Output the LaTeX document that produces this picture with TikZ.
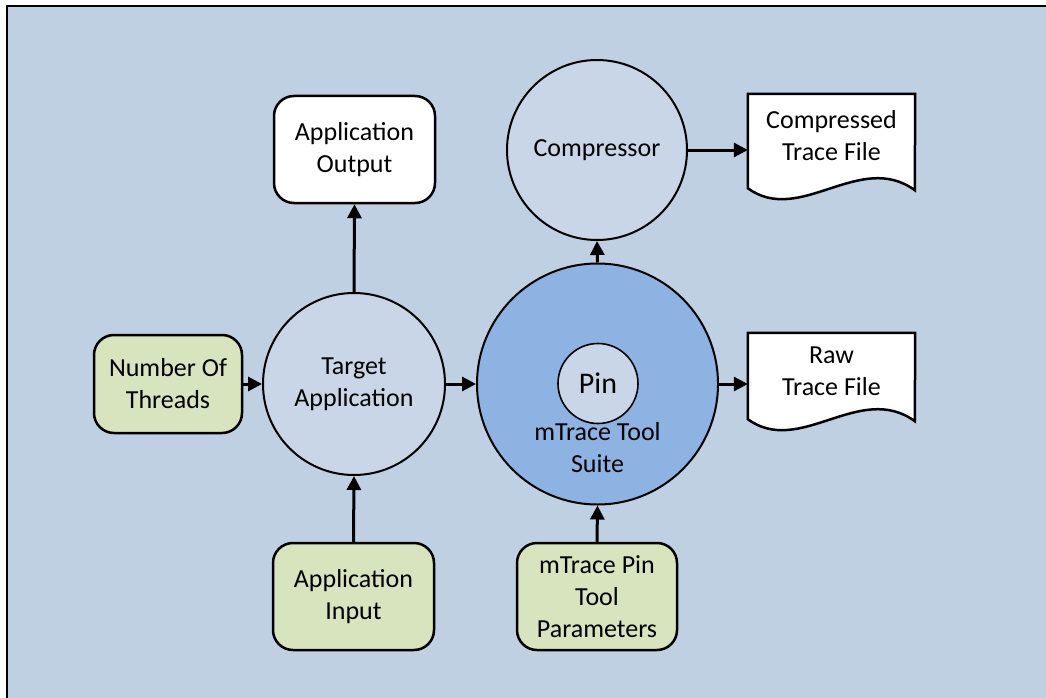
\documentclass[tikz,border=0pt]{standalone}
\usepackage{fontspec}
\setmainfont{Carlito}
\usetikzlibrary{calc,arrows.meta,backgrounds}
\definecolor{bgblue}{RGB}{191,208,226}
\definecolor{lightcirc}{RGB}{201,214,232}
\definecolor{bigcirc}{RGB}{141,179,226}
\definecolor{boxgreen}{RGB}{215,228,189}
\tikzset{
  txt/.style={font=\fontsize{26}{32}\selectfont, align=center, text=black},
  rbox/.style={txt, draw=black, line width=2.5pt, rounded corners=20pt, inner sep=0pt},
  whitebox/.style={rbox, fill=white},
  greenbox/.style={rbox, fill=boxgreen},
  circ/.style={txt, circle, draw=black, line width=2pt, inner sep=0pt},
  docnode/.style={txt, draw=none, minimum width=167pt, inner sep=0pt},
  docline/.style={draw=black, line width=2.5pt, fill=white, line join=miter},
  arr/.style={-{Triangle[length=14pt,width=14pt]}, line width=3pt, draw=black}
}
\begin{document}
\begin{tikzpicture}[x=1pt,y=-1pt]
\useasboundingbox (0,0) rectangle (1046,698);

% nodes
\node[whitebox, minimum width=161pt, minimum height=107pt] (appout) at (354.5,149.5) {Application\\Output};
\node[circ, fill=lightcirc, minimum size=180pt] (comp) at (597,150) {Compressor};
\node[docnode, minimum height=84pt] (ctf) at (831.5,136) {Compressed\\Trace File};
\node[greenbox, minimum width=148pt, minimum height=98pt] (threads) at (168,384) {Number Of\\Threads};
\node[circ, fill=lightcirc, minimum size=182pt] (target) at (354,384) {Target\\Application};
\node[circ, fill=bigcirc, minimum size=241pt] (mtrace) at (597.5,384) {};
\node[circ, fill=lightcirc, line width=1.6pt, minimum size=80pt, font=\fontsize{30}{36}\selectfont] (pin) at (598,383.5) {Pin};
\node[txt] (mtlabel) at (597.5,448) {mTrace Tool\\Suite};
\node[docnode, minimum height=76pt] (raw) at (831.5,371) {Raw\\Trace File};
\node[greenbox, minimum width=161pt, minimum height=107pt] (appin) at (353.5,596.5) {Application\\Input};
\node[greenbox, minimum width=160pt, minimum height=107pt] (params) at (597,596.5) {mTrace Pin\\Tool\\Parameters};

% background and document shapes (behind the nodes)
\begin{pgfonlayer}{background}
\fill[bgblue] (7,6) rectangle (1046,698);
\draw[line width=2pt, black] (7,698) -- (7,6) -- (1046,6);
\foreach \d in {ctf,raw}{
  \path[docline] (\d.north west) -- (\d.north east) -- ($(\d.south west)+(167,12)$)
    .. controls ($(\d.south west)+(112,-28)$) and ($(\d.south west)+(52,48)$) .. ($(\d.south west)+(0,10)$) -- cycle;
}
\end{pgfonlayer}

% connectors
\draw[arr] (target.north) -- (appout.south);
\draw[arr] (threads.east) -- (target.west);
\draw[arr] (target.east) -- (mtrace.west);
\draw[arr] (mtrace.east) -- (mtrace.east -| raw.west);
\draw[arr] (comp.east) -- (comp.east -| ctf.west);
\draw[arr] (mtrace.north) -- (comp.south);
\draw[arr] (appin.north) -- (target.south);
\draw[arr] (params.north) -- (mtrace.south);
\end{tikzpicture}
\end{document}
